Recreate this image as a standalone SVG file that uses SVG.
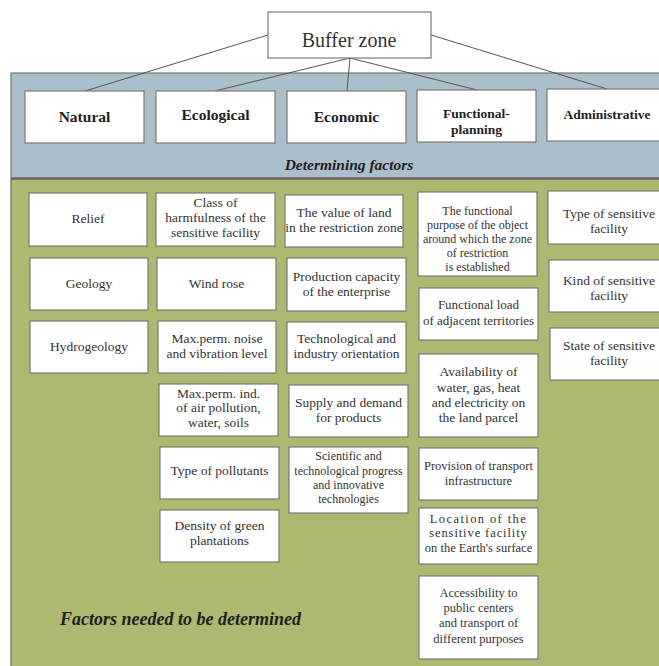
<svg xmlns="http://www.w3.org/2000/svg" width="659" height="666" viewBox="0 0 659 666">
<style>
.box{fill:#fff;stroke:#7a7a7a;stroke-width:1.2}
.t{font-family:"Liberation Serif","Times New Roman",serif;fill:#333;text-anchor:middle;font-size:13.5px}
.s{font-size:12px}
.m{font-size:12.5px}
.h{font-family:"Liberation Serif","Times New Roman",serif;fill:#222;text-anchor:middle;font-weight:bold;font-size:15.5px}
.hs{font-size:13.5px}
.bi{font-family:"Liberation Serif","Times New Roman",serif;fill:#1e1e1e;font-weight:bold;font-style:italic}
.ln{stroke:#555;stroke-width:1;fill:none}
</style>
<rect x="0" y="0" width="659" height="666" fill="#fff"/>
<g id="panel">
<rect x="11" y="73" width="660" height="105" fill="#aabfc9" stroke="#777" stroke-width="1.2"/>
<rect x="11" y="179" width="660" height="500" fill="#adb970" stroke="#6b6b5b" stroke-width="1.2"/>
<line x1="11" y1="178.5" x2="659" y2="178.5" stroke="#666" stroke-width="2"/>
<text class="bi" x="349" y="170" text-anchor="middle" font-size="15.5">Determining factors</text>
<text class="bi" x="60" y="625" font-size="18">Factors needed to be determined</text>
</g>
<g id="connectors">
<line class="ln" x1="268" y1="35" x2="85" y2="91"/>
<line class="ln" x1="350" y1="58" x2="215" y2="91"/>
<line class="ln" x1="350" y1="58" x2="347" y2="91"/>
<line class="ln" x1="350" y1="58" x2="477" y2="90"/>
<line class="ln" x1="431" y1="35" x2="607" y2="89"/>
</g>
<g id="buffer-zone">
<rect class="box" x="268" y="12" width="163" height="46"/>
<text class="t" x="349" y="47" font-size="20" style="font-size:20px">Buffer zone</text>
</g>
<g id="natural"><rect class="box" x="25" y="91" width="119" height="52"/><text class="h" x="84.5" y="122">Natural</text></g>
<g id="ecological"><rect class="box" x="156" y="91" width="119" height="52"/><text class="h" x="215.5" y="120">Ecological</text></g>
<g id="economic"><rect class="box" x="287" y="91" width="119" height="52"/><text class="h" x="346.5" y="122">Economic</text></g>
<g id="functional-planning"><rect class="box" x="417" y="90" width="119" height="52"/><text class="h hs" x="476.5" y="118">Functional-</text><text class="h hs" x="476.5" y="134">planning</text></g>
<g id="administrative"><rect class="box" x="547" y="89" width="120" height="52"/><text class="h hs" x="607" y="119">Administrative</text></g>

<g id="relief"><rect class="box" x="29" y="193" width="118" height="53"/><text class="t" x="88" y="223">Relief</text></g>
<g id="geology"><rect class="box" x="30" y="258" width="118" height="52"/><text class="t" x="89" y="288">Geology</text></g>
<g id="hydrogeology"><rect class="box" x="30" y="321" width="118" height="52"/><text class="t" x="89" y="351">Hydrogeology</text></g>

<g id="class-harmfulness"><rect class="box" x="156" y="193" width="119" height="53"/><text class="t" x="215.5" y="207">Class of</text><text class="t" x="215.5" y="222">harmfulness of the</text><text class="t" x="215.5" y="237">sensitive facility</text></g>
<g id="wind-rose"><rect class="box" x="157" y="258" width="119" height="52"/><text class="t" x="216.5" y="288">Wind rose</text></g>
<g id="noise"><rect class="box" x="158" y="321" width="118" height="52"/><text class="t" x="217" y="343">Max.perm. noise</text><text class="t" x="217" y="358">and vibration level</text></g>
<g id="air-pollution"><rect class="box" x="159" y="384" width="119" height="52"/><text class="t" x="218.5" y="398">Max.perm. ind.</text><text class="t" x="218.5" y="412">of air pollution,</text><text class="t" x="218.5" y="427">water, soils</text></g>
<g id="pollutants"><rect class="box" x="160" y="447" width="119" height="52"/><text class="t" x="219.5" y="475">Type of pollutants</text></g>
<g id="green"><rect class="box" x="160" y="510" width="119" height="52"/><text class="t" x="219.5" y="530">Density of green</text><text class="t" x="219.5" y="545">plantations</text></g>

<g id="land-value"><rect class="box" x="285" y="195" width="118" height="52"/><text class="t" x="344" y="217">The value of land</text><text class="t" x="344" y="232">in the restriction zone</text></g>
<g id="capacity"><rect class="box" x="287" y="258" width="119" height="53"/><text class="t" x="346.5" y="281">Production capacity</text><text class="t" x="346.5" y="296">of the enterprise</text></g>
<g id="orientation"><rect class="box" x="287" y="322" width="119" height="51"/><text class="t" x="346.5" y="343">Technological and</text><text class="t" x="346.5" y="358">industry orientation</text></g>
<g id="supply"><rect class="box" x="289" y="385" width="119" height="52"/><text class="t" x="348.5" y="407">Supply and demand</text><text class="t" x="348.5" y="422">for products</text></g>
<g id="scientific"><rect class="box" x="289" y="447" width="119" height="66"/><text class="t s" x="348.5" y="460">Scientific and</text><text class="t s" x="348.5" y="475">technological progress</text><text class="t s" x="348.5" y="489">and innovative</text><text class="t s" x="348.5" y="503">technologies</text></g>

<g id="functional-purpose"><rect class="box" x="418" y="192" width="119" height="84"/><text class="t s" x="477.5" y="215">The functional</text><text class="t s" x="477.5" y="229">purpose of the object</text><text class="t s" x="477.5" y="243">around which the zone</text><text class="t s" x="477.5" y="257">of restriction</text><text class="t s" x="477.5" y="271">is established</text></g>
<g id="functional-load"><rect class="box" x="419" y="288" width="119" height="52"/><text class="t" x="478.5" y="309" style="font-size:13px">Functional load</text><text class="t" x="478.5" y="325" style="font-size:13px">of adjacent territories</text></g>
<g id="utilities"><rect class="box" x="419" y="354" width="119" height="83"/><text class="t" x="478.5" y="376">Availability of</text><text class="t" x="478.5" y="392">water, gas, heat</text><text class="t" x="478.5" y="407">and electricity on</text><text class="t" x="478.5" y="422">the land parcel</text></g>
<g id="transport"><rect class="box" x="419" y="448" width="119" height="52"/><text class="t m" x="478.5" y="470">Provision of transport</text><text class="t m" x="478.5" y="485">infrastructure</text></g>
<g id="location"><rect class="box" x="419" y="508" width="119" height="56"/><text class="t m" x="478.5" y="523" letter-spacing="1.4">Location of the</text><text class="t m" x="478.5" y="537" letter-spacing="0.9">sensitive facility</text><text class="t m" x="478.5" y="552">on the Earth's surface</text></g>
<g id="accessibility"><rect class="box" x="419" y="576" width="119" height="83"/><text class="t m" x="478.5" y="597">Accessibility to</text><text class="t m" x="478.5" y="612">public centers</text><text class="t m" x="478.5" y="627">and transport of</text><text class="t m" x="478.5" y="643">different purposes</text></g>

<g id="type-facility"><rect class="box" x="548" y="191" width="120" height="53"/><text class="t" x="609" y="218">Type of sensitive</text><text class="t" x="609" y="233">facility</text></g>
<g id="kind-facility"><rect class="box" x="549" y="260" width="120" height="52"/><text class="t" x="609" y="285">Kind of sensitive</text><text class="t" x="609" y="300">facility</text></g>
<g id="state-facility"><rect class="box" x="550" y="328" width="120" height="52"/><text class="t" x="609" y="350">State of sensitive</text><text class="t" x="609" y="365">facility</text></g>
</svg>
